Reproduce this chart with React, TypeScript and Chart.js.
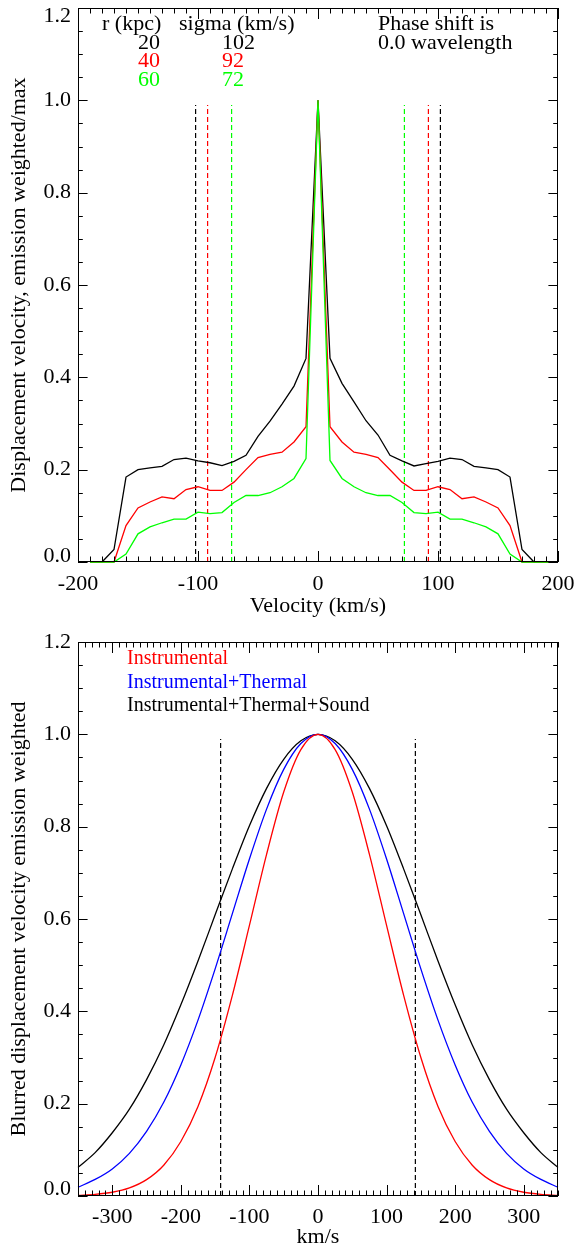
import React, { useEffect, useRef } from "react";
import { Chart, registerables } from "chart.js";

Chart.register(...registerables);

// ---------------- Top panel data ----------------
const topVelocity = [
  -190, -180, -170, -160, -150, -140, -130, -120, -110, -100, -90, -80, -70, -60, -50, -40, -30, -20, -10,
  0, 10, 20, 30, 40, 50, 60, 70, 80, 90, 100, 110, 120, 130, 140, 150, 160, 170, 180, 190, 200,
];
const r20Values = [
  0, 0, 0.027, 0.184, 0.2, 0.204, 0.207, 0.222, 0.225, 0.219, 0.215, 0.209, 0.218, 0.231, 0.272, 0.305, 0.342, 0.381, 0.441,
  1.0, 0.441, 0.387, 0.347, 0.306, 0.275, 0.231, 0.219, 0.208, 0.213, 0.218, 0.225, 0.222, 0.207, 0.204, 0.2, 0.184, 0.027, 0, 0, 0,
];
const r40Values = [
  0, 0, 0, 0.079, 0.117, 0.13, 0.141, 0.137, 0.157, 0.163, 0.155, 0.155, 0.173, 0.2, 0.226, 0.233, 0.238, 0.26, 0.293,
  1.0, 0.293, 0.26, 0.238, 0.233, 0.226, 0.2, 0.173, 0.155, 0.155, 0.163, 0.157, 0.137, 0.141, 0.13, 0.117, 0.079, 0, 0, 0, 0,
];
const r60Values = [
  0, 0, 0, 0.017, 0.061, 0.076, 0.085, 0.093, 0.093, 0.108, 0.105, 0.107, 0.129, 0.144, 0.144, 0.15, 0.163, 0.181, 0.224,
  1.0, 0.22, 0.181, 0.163, 0.15, 0.144, 0.144, 0.129, 0.107, 0.105, 0.108, 0.093, 0.093, 0.085, 0.076, 0.061, 0.017, 0, 0, 0, 0,
];
const radiusLabels = ["20", "40", "60"];
const sigmaValues = [102, 92, 72];
const topXTicks = [-200, -100, 0, 100, 200];
const yTicks = [0, 0.2, 0.4, 0.6, 0.8, 1.0, 1.2];

// ---------------- Bottom panel data ----------------
const bottomVelocity = [
  -350, -325, -300, -275, -250, -225, -200, -175, -150, -125, -100, -75, -50, -25,
  0, 25, 50, 75, 100, 125, 150, 175, 200, 225, 250, 275, 300, 325, 350,
];
const instrumental = [
  0.0014, 0.0035, 0.0081, 0.0175, 0.0354, 0.0667, 0.118, 0.194, 0.3, 0.434, 0.586, 0.74, 0.875, 0.967,
  1.0, 0.967, 0.875, 0.74, 0.586, 0.434, 0.3, 0.194, 0.118, 0.0667, 0.0354, 0.0175, 0.0081, 0.0035, 0.0014,
];
const instrumentalThermal = [
  0.019, 0.0359, 0.0587, 0.0924, 0.14, 0.203, 0.284, 0.381, 0.492, 0.611, 0.73, 0.838, 0.924, 0.98,
  1.0, 0.98, 0.924, 0.838, 0.73, 0.611, 0.492, 0.381, 0.284, 0.203, 0.14, 0.0924, 0.0587, 0.0359, 0.019,
];
const instrumentalThermalSound = [
  0.062, 0.094, 0.137, 0.188, 0.252, 0.327, 0.414, 0.509, 0.609, 0.708, 0.802, 0.883, 0.946, 0.986,
  1.0, 0.986, 0.946, 0.883, 0.802, 0.708, 0.609, 0.509, 0.414, 0.327, 0.252, 0.188, 0.137, 0.094, 0.062,
];
const bottomXTicks = [-300, -200, -100, 0, 100, 200, 300];
const blurMarkers = [-142, 142];
const legendLabels = ["Instrumental", "Instrumental+Thermal", "Instrumental+Thermal+Sound"];

// ---------------- Styling ----------------
const SERIF = "'Liberation Serif', 'Times New Roman', serif";
const RED = "#ff0000";
const GREEN = "#00ff00";
const BLUE = "#0000ff";
const BLACK = "#000000";

// Box with inward major/minor ticks on all four sides, plus tick labels and axis titles
const framePlugin = {
  id: "frame",
  afterDatasetsDraw(chart: any, _args: any, opts: any) {
    const { ctx, chartArea: a, scales } = chart;
    const x = scales.x;
    const y = scales.y;
    ctx.save();
    ctx.strokeStyle = "#000";
    ctx.lineWidth = 1;
    ctx.strokeRect(a.left + 0.5, a.top + 0.5, a.right - a.left - 1, a.bottom - a.top - 1);
    ctx.beginPath();
    const nx = Math.round((x.max - x.min) / opts.xMinor);
    for (let k = 0; k <= nx; k++) {
      const v = x.min + k * opts.xMinor;
      const isMajor = Math.abs(v / opts.xMajor - Math.round(v / opts.xMajor)) < 1e-6;
      const len = isMajor ? opts.xMajorLen : opts.xMajorLen / 2;
      const px = Math.round(x.getPixelForValue(v)) + 0.5;
      ctx.moveTo(px, a.bottom);
      ctx.lineTo(px, a.bottom - len);
      ctx.moveTo(px, a.top);
      ctx.lineTo(px, a.top + len);
    }
    const ny = Math.round((y.max - y.min) / opts.yMinor);
    for (let k = 0; k <= ny; k++) {
      const v = y.min + k * opts.yMinor;
      const isMajor = Math.abs(v / opts.yMajor - Math.round(v / opts.yMajor)) < 1e-6;
      const len = isMajor ? opts.yMajorLen : opts.yMajorLen / 2;
      const py = Math.round(y.getPixelForValue(v)) + 0.5;
      ctx.moveTo(a.left, py);
      ctx.lineTo(a.left + len, py);
      ctx.moveTo(a.right, py);
      ctx.lineTo(a.right - len, py);
    }
    ctx.stroke();

    // tick labels
    ctx.fillStyle = "#000";
    ctx.font = `22px ${SERIF}`;
    ctx.textBaseline = "middle";
    ctx.textAlign = "center";
    for (const t of x.ticks) {
      ctx.fillText(String(t.value), x.getPixelForValue(t.value), a.bottom + opts.xLabelGap);
    }
    ctx.textAlign = "right";
    for (const t of y.ticks) {
      let py = y.getPixelForValue(t.value);
      if (t.value === y.min) py -= opts.yZeroLift;
      py = Math.max(py, opts.yLabelMinY);
      ctx.fillText(Number(t.value).toFixed(1), a.left - 7, py);
    }

    // axis titles
    ctx.textAlign = "center";
    ctx.fillText(opts.xTitle, (a.left + a.right) / 2, opts.xTitleY);
    ctx.save();
    ctx.translate(opts.yTitleX, (a.top + a.bottom) / 2);
    ctx.rotate(-Math.PI / 2);
    ctx.fillText(opts.yTitle, 0, 0);
    ctx.restore();
    ctx.restore();
  },
};

const notesPlugin = {
  id: "notes",
  afterDraw(chart: any, _args: any, opts: any) {
    const { ctx } = chart;
    ctx.save();
    ctx.textBaseline = "middle";
    for (const it of opts.items || []) {
      ctx.font = `${it.size || 22}px ${SERIF}`;
      ctx.fillStyle = it.color || "#000";
      ctx.textAlign = it.align || "left";
      ctx.fillText(it.text, it.x, it.y);
    }
    ctx.restore();
  },
};

function line(xs: number[], ys: number[], color: string, extra: any = {}) {
  return {
    data: xs.map((v, i) => ({ x: v, y: ys[i] })),
    borderColor: color,
    backgroundColor: color,
    borderWidth: 1.3,
    pointRadius: 0,
    showLine: true,
    fill: false,
    clip: 3,
    ...extra,
  };
}

function vline(v: number, top: number, color: string) {
  return line([v, v], [0, top], color, { borderDash: [5, 3], borderWidth: 1.2 });
}

function makeScales(xMin: number, xMax: number, xTicks: number[], xHeight: number) {
  return {
    x: {
      type: "linear",
      position: "bottom",
      min: xMin,
      max: xMax,
      afterBuildTicks: (s: any) => {
        s.ticks = xTicks.map((v) => ({ value: v }));
      },
      afterFit: (s: any) => {
        s.height = xHeight;
      },
      grid: { display: false, drawTicks: false },
      border: { display: false },
      ticks: { display: false },
      title: { display: false },
    },
    y: {
      type: "linear",
      position: "left",
      min: 0,
      max: 1.2,
      afterBuildTicks: (s: any) => {
        s.ticks = yTicks.map((v) => ({ value: v }));
      },
      afterFit: (s: any) => {
        s.width = 78;
      },
      grid: { display: false, drawTicks: false },
      border: { display: false },
      ticks: { display: false },
      title: { display: false },
    },
  };
}

const baseOptions = {
  responsive: false,
  maintainAspectRatio: false,
  animation: false,
  devicePixelRatio: 1,
};

function topConfig(): any {
  const sigmaColors = [BLACK, RED, GREEN];
  const dashed: any[] = [];
  sigmaValues.forEach((s, i) => {
    dashed.push(vline(-s, 0.99, sigmaColors[i]));
    dashed.push(vline(s, 0.99, sigmaColors[i]));
  });
  const notes: any[] = [
    { text: "r (kpc)", x: 102, y: 24 },
    { text: "sigma (km/s)", x: 179, y: 24 },
    { text: "Phase shift is", x: 378, y: 24 },
    { text: "0.0 wavelength", x: 378, y: 43 },
  ];
  radiusLabels.forEach((r, i) => {
    notes.push({ text: r, x: 160, y: 43 + i * 18.5, color: sigmaColors[i], align: "right" });
    notes.push({ text: String(sigmaValues[i]), x: 222, y: 43 + i * 18.5, color: sigmaColors[i] });
  });
  return {
    type: "scatter",
    data: {
      datasets: [
        line(topVelocity, r60Values, GREEN),
        line(topVelocity, r40Values, RED),
        line(topVelocity, r20Values, BLACK),
        ...dashed,
      ],
    },
    options: {
      ...baseOptions,
      layout: { padding: { left: 0, top: 8, right: 17, bottom: 0 } },
      scales: makeScales(-200, 200, topXTicks, 63),
      plugins: {
        legend: { display: false },
        tooltip: { enabled: false },
        frame: {
          xMinor: 10, xMajor: 100, xMajorLen: 11, yMinor: 0.05, yMajor: 0.2, yMajorLen: 9.6,
          xLabelGap: 22, yZeroLift: 6, yLabelMinY: 16,
          xTitle: "Velocity (km/s)", xTitleY: 606,
          yTitle: "Displacement velocity, emission weighted/max", yTitleX: 19,
        },
        notes: { items: notes },
      },
    },
    plugins: [framePlugin, notesPlugin],
  };
}

function bottomConfig(): any {
  const colors = [RED, BLUE, BLACK];
  const notes = legendLabels.map((t, i) => ({ text: t, x: 127, y: 33.5 + i * 23.8, color: colors[i], size: 20 }));
  return {
    type: "scatter",
    data: {
      datasets: [
        line(bottomVelocity, instrumental, RED, { cubicInterpolationMode: "monotone" }),
        line(bottomVelocity, instrumentalThermal, BLUE, { cubicInterpolationMode: "monotone" }),
        line(bottomVelocity, instrumentalThermalSound, BLACK, { cubicInterpolationMode: "monotone" }),
        ...blurMarkers.map((m) => vline(m, 0.99, BLACK)),
      ],
    },
    options: {
      ...baseOptions,
      layout: { padding: { left: 0, top: 17, right: 17, bottom: 0 } },
      scales: makeScales(-350, 350, bottomXTicks, 53),
      plugins: {
        legend: { display: false },
        tooltip: { enabled: false },
        frame: {
          xMinor: 10, xMajor: 100, xMajorLen: 11, yMinor: 0.05, yMajor: 0.2, yMajorLen: 9.6,
          xLabelGap: 21, yZeroLift: 7, yLabelMinY: 0,
          xTitle: "km/s", xTitleY: 612,
          yTitle: "Blurred displacement velocity emission weighted", yTitleX: 19,
        },
        notes: { items: notes },
      },
    },
    plugins: [framePlugin, notesPlugin],
  };
}

export default function App() {
  const topRef = useRef<HTMLCanvasElement | null>(null);
  const bottomRef = useRef<HTMLCanvasElement | null>(null);

  useEffect(() => {
    const c1 = new Chart(topRef.current as HTMLCanvasElement, topConfig());
    const c2 = new Chart(bottomRef.current as HTMLCanvasElement, bottomConfig());
    return () => {
      c1.destroy();
      c2.destroy();
    };
  }, []);

  return (
    <div style={{ position: "absolute", left: 0, top: 0, width: 575, height: 1249, background: "#fff" }}>
      <canvas
        ref={topRef}
        width={575}
        height={625}
        style={{ position: "absolute", left: 0, top: 0, width: 575, height: 625, display: "block" }}
      />
      <canvas
        ref={bottomRef}
        width={575}
        height={624}
        style={{ position: "absolute", left: 0, top: 625, width: 575, height: 624, display: "block" }}
      />
    </div>
  );
}
